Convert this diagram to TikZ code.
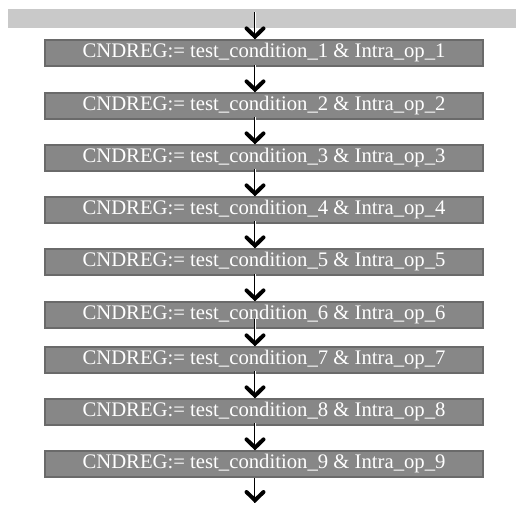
\documentclass[tikz,border=0pt]{standalone}
\usepackage{fontspec}
\setmainfont{Liberation Serif}
\usetikzlibrary{decorations.markings,calc}
\definecolor{boxfill}{HTML}{878787}
\definecolor{boxline}{HTML}{6A6A6A}
\definecolor{barfill}{HTML}{C9C9C9}
\tikzset{
  opbox/.style={draw=boxline, line width=1.2pt, fill=boxfill, minimum width=438pt, minimum height=26pt,
    inner sep=0pt, text=white, font=\fontsize{20.7}{22}\selectfont},
  headmark/.style={decorate, decoration={markings, mark=at position 1 with {
      \draw[black, line width=4pt, line cap=round, line join=miter] (-11pt,8.5pt) -- (-2.8pt,0pt) -- (-11pt,-8.5pt);}}},
  conn/.style={preaction={draw=black, line width=2.8pt}, draw=white, line width=1.0pt,
    postaction={headmark}},
}
\begin{document}
\begin{tikzpicture}[x=1pt,y=1pt]
\useasboundingbox (0,0) rectangle (516,504);
\fill[white] (0,0) rectangle (516,504);
\node[fill=barfill, minimum width=508pt, minimum height=19pt, inner sep=0pt] (bar) at (262,485.5) {};
\coordinate (ax) at (255,0);
\foreach \i/\y in {1/451,2/398,3/346,4/294,5/242,6/189,7/144,8/92,9/40}{
  \node[opbox] (b\i) at (264,\y) {CNDREG:= test\_condition\_\i{} \& Intra\_op\_\i};
}
\coordinate (endpt) at (255,1);
\foreach \i in {1,...,9}{
  \path[conn] ($(b\i.north -| ax)+(0,27)$) -- (b\i.north -| ax);
}
\path[conn] (b9.south -| ax) -- (endpt);
\end{tikzpicture}
\end{document}
